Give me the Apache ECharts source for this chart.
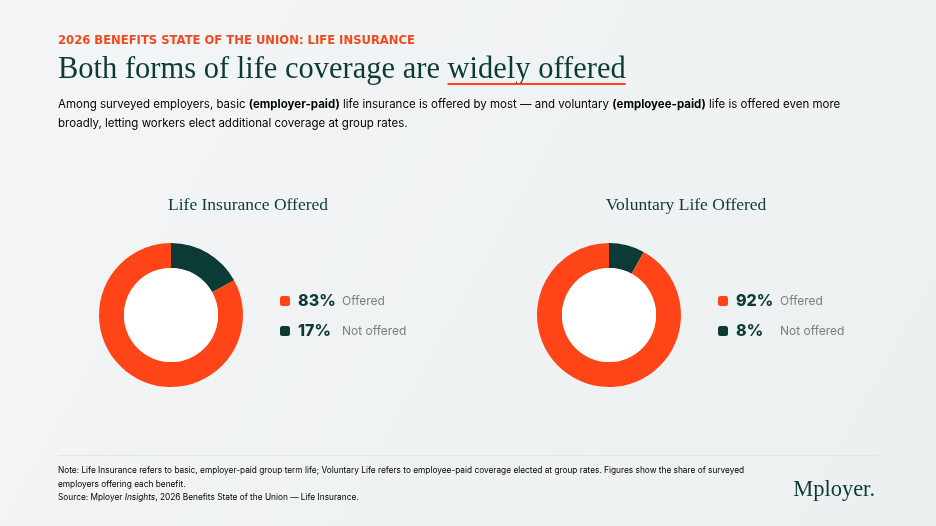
<!DOCTYPE html>
<html>
<head>
<meta charset="utf-8">
<script src="https://cdn.jsdelivr.net/npm/echarts@6/dist/echarts.min.js"></script>
<style>
  html, body { margin: 0; padding: 0; background: #F0F3F4; }
  #chart { width: 936px; height: 526px; }
</style>
</head>
<body>
<div id="chart"></div>
<script>
// ---- Data ----
const categories = ['Offered', 'Not offered'];
const chartTitles = ['Life Insurance Offered', 'Voluntary Life Offered'];
const lifeInsuranceValues = [83, 17];
const voluntaryLifeValues = [92, 8];

const kicker = '2026 BENEFITS STATE OF THE UNION: LIFE INSURANCE';
const headlineLead = 'Both forms of life coverage are ';
const headlineEmph = 'widely offered';
const noteLines = [
  'Note: Life Insurance refers to basic, employer-paid group term life; Voluntary Life refers to employee-paid coverage elected at group rates. Figures show the share of surveyed',
  'employers offering each benefit.'
];

// ---- Style ----
const ORANGE = '#FF4518';
const DARK = '#0C3B36';
const SERIF = '"Liberation Serif", "DejaVu Serif", serif';
const SANS = 'Inter, "Noto Sans", sans-serif';

const chart = echarts.init(document.getElementById('chart'), null, { renderer: 'canvas' });

const measureCtx = document.createElement('canvas').getContext('2d');
function textWidth(str, font) { measureCtx.font = font; return measureCtx.measureText(str).width; }

const titleFont = '400 30.5px ' + SERIF;
const leadW = textWidth(headlineLead, titleFont);
const emphW = textWidth(headlineEmph, titleFont);
const X0 = 58;

const panels = [
  { key: 'life', title: chartTitles[0], values: lifeInsuranceValues, cx: 171, legendX: 280, titleX: 248 },
  { key: 'vol', title: chartTitles[1], values: voluntaryLifeValues, cx: 609, legendX: 718, titleX: 686 }
];
const CY = 315;
const colorOf = { 'Offered': ORANGE, 'Not offered': DARK };

const series = [];
const legends = [];
const valueLookup = {};
panels.forEach((p) => {
  // order data so the "Not offered" slice starts at 12 o'clock clockwise
  const data = [1, 0].map(ci => {
    const id = p.key + '|' + categories[ci];
    valueLookup[id] = { v: p.values[ci], label: categories[ci] };
    return { name: id, value: p.values[ci], itemStyle: { color: colorOf[categories[ci]] } };
  });
  series.push({
    type: 'pie',
    radius: [47, 72],
    center: [p.cx, CY],
    startAngle: 90,
    clockwise: true,
    label: { show: false },
    labelLine: { show: false },
    emphasis: { disabled: true },
    silent: true,
    itemStyle: { borderWidth: 0 },
    data: data
  });
  series.push({
    type: 'pie',
    radius: [0, 47],
    center: [p.cx, CY],
    silent: true,
    label: { show: false },
    labelLine: { show: false },
    emphasis: { disabled: true },
    itemStyle: { color: '#FFFFFF' },
    data: [{ value: 1 }]
  });
  legends.push({
    orient: 'vertical',
    left: p.legendX,
    top: 293,
    padding: 0,
    itemWidth: 10,
    itemHeight: 10,
    itemGap: 14,
    icon: 'roundRect',
    selectedMode: false,
    data: categories.map(c => p.key + '|' + c),
    formatter: name => '{v|' + valueLookup[name].v + '%}{l|' + valueLookup[name].label + '}',
    textStyle: {
      rich: {
        v: { fontFamily: SANS, fontSize: 16, fontWeight: 800, color: DARK, width: 44, padding: [0, 0, 0, 3], lineHeight: 18 },
        l: { fontFamily: SANS, fontSize: 12, color: '#76827F', lineHeight: 18 }
      }
    }
  });
});

const graphics = [
  { type: 'text', left: X0, top: 35, style: { text: kicker, font: '700 11.6px "DejaVu Sans", sans-serif', fill: '#F04A1E' } },
  { type: 'text', left: X0, top: 54, style: { text: headlineLead + headlineEmph, font: titleFont, fill: DARK } },
  { type: 'rect', shape: { x: X0 + leadW, y: 83, width: emphW, height: 2 }, style: { fill: ORANGE } },
  { type: 'text', left: X0, top: 99, style: {
      text: '{n|Among surveyed employers, basic }{b|(employer-paid)}{n| life insurance is offered by most — and voluntary }{b|(employee-paid)}{n| life is offered even more}\n{n|broadly, letting workers elect additional coverage at group rates.}',
      rich: {
        n: { fontFamily: SANS, fontSize: 11.5, color: '#4D5858', lineHeight: 19 },
        b: { fontFamily: SANS, fontSize: 11.5, fontWeight: 700, color: DARK, lineHeight: 19 }
      }
  } },
  { type: 'rect', shape: { x: X0, y: 455, width: 820, height: 1 }, style: { fill: '#E2E7E8' } },
  { type: 'text', left: X0, top: 467, style: {
      text: '{n|' + noteLines[0] + '}\n{n|' + noteLines[1] + '}\n{n|Source: Mployer }{i|Insights}{n|, 2026 Benefits State of the Union — Life Insurance.}',
      rich: {
        n: { fontFamily: SANS, fontSize: 8.3, color: '#737D7C', lineHeight: 13.3 },
        i: { fontFamily: SANS, fontSize: 8.3, fontStyle: 'italic', color: '#737D7C', lineHeight: 13.3 }
      }
  } },
  { type: 'text', right: 61, top: 479, style: { text: 'Mployer.', font: '400 22.5px ' + SERIF, fill: DARK } }
];
panels.forEach(p => {
  graphics.push({ type: 'text', x: p.titleX, y: 205, style: { text: p.title, font: '400 17.5px ' + SERIF, fill: DARK, textAlign: 'center', textVerticalAlign: 'middle' } });
});

chart.setOption({
  backgroundColor: new echarts.graphic.LinearGradient(0, 0, 1, 1, [
    { offset: 0, color: '#F3F5F6' },
    { offset: 1, color: '#ECF0F1' }
  ]),
  animation: false,
  legend: legends,
  series: series,
  graphic: graphics
});
</script>
</body>
</html>
